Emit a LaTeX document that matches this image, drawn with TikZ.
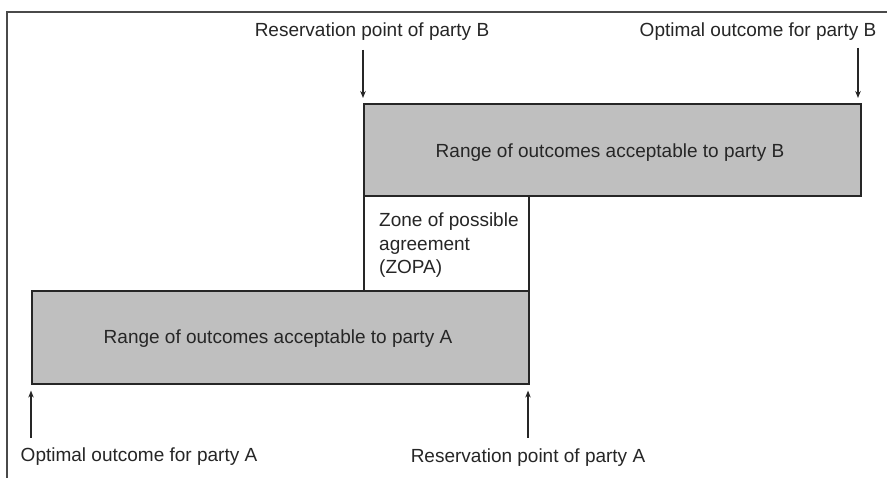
\documentclass[tikz,border=0pt]{standalone}
\usepackage{fontspec}
\setmainfont{Liberation Sans}
\usetikzlibrary{arrows.meta}
\definecolor{boxgray}{HTML}{BFBFBF}
\definecolor{edge}{HTML}{262626}
\definecolor{framec}{HTML}{4A4A4A}
\begin{document}
\begin{tikzpicture}[x=1pt,y=-1pt,
  lbl/.style={inner sep=0pt, font=\fontsize{19}{23.5}\selectfont, text=black!85},
  rangebox/.style={draw=edge, fill=boxgray, line width=1.6pt, anchor=north west, inner sep=0pt},
  zopabox/.style={draw=edge, fill=white, line width=1.6pt, anchor=north west, inner sep=0pt},
  arr/.style={-{Stealth[length=7pt,width=5.5pt]}, line width=1.2pt, draw=black!85}]
\useasboundingbox (0,0) rectangle (887,478);
\fill[white] (0,0) rectangle (887,478);
% frame
\draw[framec, line width=2.2pt] (887,12) -- (7,12) -- (7,478);
% boxes
\node[zopabox, minimum width=165pt, minimum height=95pt] (Z) at (363,195) {};
\node[rangebox, minimum width=497pt, minimum height=92pt] (B) at (363,103) {};
\node[rangebox, minimum width=497pt, minimum height=93pt] (A) at (31,290) {};
% box texts
\node[lbl, anchor=base] (Btxt) at (610,158) {Range of outcomes acceptable to party B};
\node[lbl, anchor=base] (Atxt) at (278,344) {Range of outcomes acceptable to party A};
\node[lbl, align=left, anchor=north west] (Ztxt) at (379,213) {Zone of possible\\agreement\\(ZOPA)};
% labels
\node[lbl, anchor=base] (resB) at (372,37) {Reservation point of party B};
\node[lbl, anchor=base] (optB) at (758,37) {Optimal outcome for party B};
\node[lbl, anchor=base] (optA) at (139,461) {Optimal outcome for party A};
\node[lbl, anchor=base] (resA) at (528,462) {Reservation point of party A};
% arrows
\coordinate (sResB) at (363,50);
\coordinate (sOptB) at (858,48);
\coordinate (sOptA) at (31,438);
\coordinate (sResA) at (528,438);
\draw[arr, shorten >=5pt] (sResB) -- (sResB |- B.north);
\draw[arr, shorten >=5pt] (sOptB) -- (sOptB |- B.north);
\draw[arr, shorten >=6pt] (sOptA) -- (sOptA |- A.south);
\draw[arr, shorten >=6pt] (sResA) -- (sResA |- A.south);
\end{tikzpicture}
\end{document}
